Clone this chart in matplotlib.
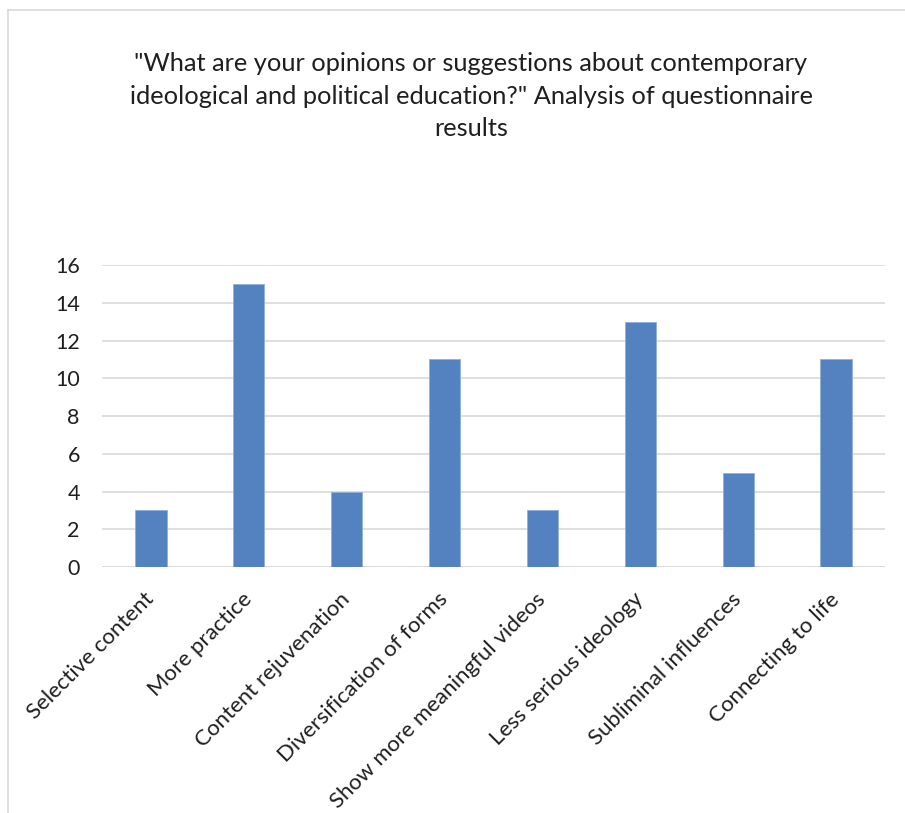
import matplotlib
matplotlib.use("Agg")
import matplotlib.pyplot as plt
from matplotlib.lines import Line2D

categories = ["Selective content", "More practice", "Content rejuvenation",
              "Diversification of forms", "Show more meaningful videos",
              "Less serious ideology", "Subliminal influences", "Connecting to life"]
values = [3, 15, 4, 11, 3, 13, 5, 11]
yticks = [0, 2, 4, 6, 8, 10, 12, 14, 16]
title = ('"What are your opinions or suggestions about contemporary\n'
         'ideological and political education?" Analysis of questionnaire\n'
         'results')

plt.rcParams['font.family'] = ['Lato', 'DejaVu Sans']

W, H = 905, 813
fig = plt.figure(figsize=(W / 100, H / 100), dpi=100)
ax = fig.add_axes([102 / W, 1 - 567 / H, (885 - 102) / W, (567 - 265) / H])

x = list(range(len(categories)))
ax.bar(x, values, width=0.32, color='#5482C0', edgecolor='#8FB0DA', linewidth=0.6, zorder=3)
ax.set_xlim(-0.5, len(categories) - 0.5)
ax.set_ylim(0, 16)
ax.set_yticks(yticks)
ax.set_yticklabels([str(v) for v in yticks], fontsize=15.5, color='#1F1F1F')
ax.set_xticks(x)
ax.set_xticklabels(categories, rotation=45, ha='right', va='center', rotation_mode='anchor',
                   fontsize=16, color='#1F1F1F')
ax.tick_params(axis='both', length=0)
ax.tick_params(axis='y', pad=16)
ax.tick_params(axis='x', pad=21)
ax.grid(axis='y', color='#D9D9D9', linewidth=1.2, zorder=0)
for s in ax.spines.values():
    s.set_visible(False)
ax.axhline(0, color='#D9D9D9', linewidth=1.2, zorder=1)

fig.text(471 / W, 1 - 96 / H, title, ha='center', va='center', fontsize=18.3,
         color='#1F1F1F', linespacing=1.5)

fig.add_artist(Line2D([8 / W, 8 / W], [0, 1 - 10 / H], transform=fig.transFigure,
                      color='#D9D9D9', linewidth=1.2))
fig.add_artist(Line2D([8 / W, 1], [1 - 10 / H, 1 - 10 / H], transform=fig.transFigure,
                      color='#D9D9D9', linewidth=1.2))

fig.savefig('out.png', dpi=100)
